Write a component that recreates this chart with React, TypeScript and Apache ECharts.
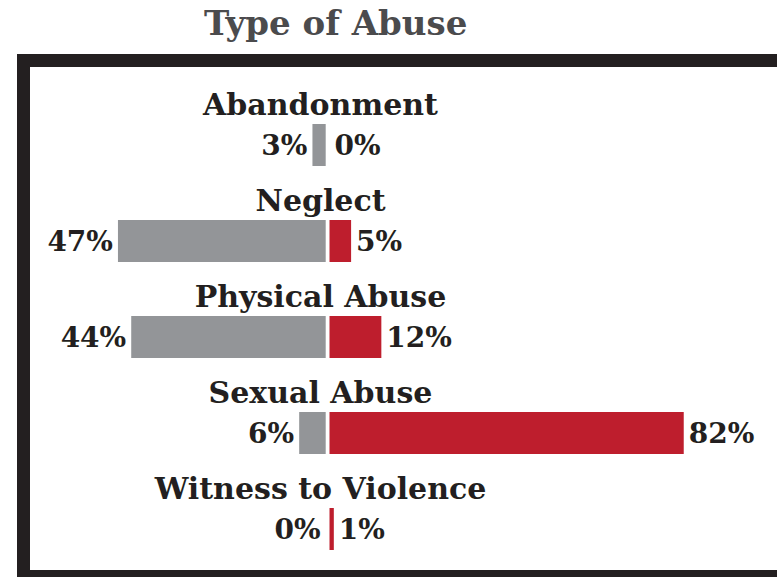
import React, { useEffect, useRef } from "react";
import * as echarts from "echarts";

const categories = ["Abandonment", "Neglect", "Physical Abuse", "Sexual Abuse", "Witness to Violence"];
const grayValues = [3, 47, 44, 6, 0];
const redValues = [0, 5, 12, 82, 1];
const titleText = "Type of Abuse";

const FONT = "'DejaVu Serif', serif";
const DARK = "#231f20";
const GRAY = "#939598";
const RED = "#be1e2d";

export default function App() {
  const ref = useRef<HTMLDivElement>(null);
  useEffect(() => {
    if (!ref.current) return;
    const chart = echarts.init(ref.current, null, { renderer: "svg" });
    const valueLabel = {
      show: true,
      formatter: "{c}%",
      distance: 5,
      color: DARK,
      fontFamily: FONT,
      fontWeight: "bold",
      fontSize: 28,
    };
    chart.setOption({
      animation: false,
      backgroundColor: "#ffffff",
      title: {
        text: titleText,
        left: 199,
        top: 1,
        textStyle: { fontFamily: FONT, fontWeight: "bold", fontSize: 34, color: "#4b4b4d" },
      },
      graphic: [
        {
          type: "rect",
          z: -1,
          shape: { x: 23.5, y: 60.5, width: 820, height: 516 },
          style: { fill: "none", stroke: DARK, lineWidth: 13 },
        },
      ],
      grid: [
        { left: 60.5, width: 265.2, top: 97, height: 482 },
        { left: 329.5, width: 432, top: 97, height: 482 },
      ],
      xAxis: [
        { gridIndex: 0, type: "value", min: 0, max: 60, inverse: true, show: false },
        { gridIndex: 1, type: "value", min: 0, max: 100, show: false },
      ],
      yAxis: [
        { gridIndex: 0, type: "category", data: categories, inverse: true, show: false },
        { gridIndex: 1, type: "category", data: categories, inverse: true, show: false },
      ],
      series: [
        {
          type: "bar",
          xAxisIndex: 0,
          yAxisIndex: 0,
          data: grayValues,
          barWidth: 42,
          itemStyle: { color: GRAY },
          label: { ...valueLabel, position: "left" },
        },
        {
          type: "bar",
          xAxisIndex: 1,
          yAxisIndex: 1,
          data: redValues,
          barWidth: 42,
          barGap: "-100%",
          itemStyle: { color: RED },
          label: { ...valueLabel, position: "right" },
        },
        {
          type: "bar",
          xAxisIndex: 1,
          yAxisIndex: 1,
          data: categories.map(() => 0),
          barWidth: 42,
          barGap: "-100%",
          itemStyle: { color: "rgba(0,0,0,0)" },
          silent: true,
          label: {
            show: true,
            position: "top",
            formatter: "{b}",
            distance: 5,
            offset: [-9, 0],
            color: DARK,
            fontFamily: FONT,
            fontWeight: "bold",
            fontSize: 30,
          },
        },
      ],
    });
    return () => chart.dispose();
  }, []);
  return <div ref={ref} style={{ position: "absolute", left: 0, top: 0, width: 777, height: 577 }} />;
}
